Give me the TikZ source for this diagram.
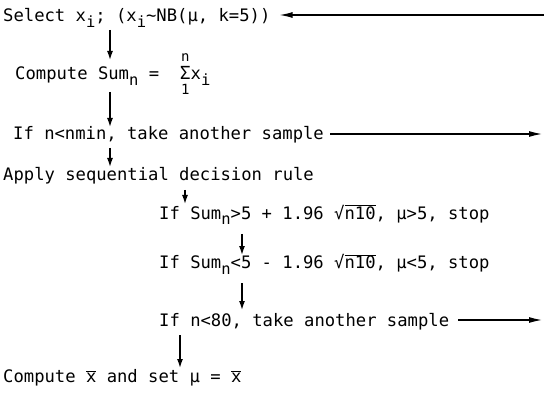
\documentclass[tikz,border=0pt]{standalone}
\usepackage{fontspec}
\usepackage{tikz}
\setmainfont{DejaVu Sans Mono}
\usetikzlibrary{arrows.meta,calc}

\newcommand{\sub}[1]{\raisebox{-5.5pt}{\fontsize{15.5}{15.5}\selectfont #1}}
\newcommand{\ovr}[1]{\(\overline{\hbox{#1}}\)}
\newcommand{\lmt}[1]{\hbox{\fontsize{14}{14}\selectfont #1}}

\begin{document}
\begin{tikzpicture}[x=1pt, y=-1pt,
  txt/.style={anchor=base west, inner sep=0pt, font=\fontsize{17.2}{20}\selectfont},
  flow/.style={-{Latex[length=9pt,width=6pt]}, line width=1.4pt},
  back/.style={-{Latex[length=13pt,width=6pt]}, line width=1.2pt}]
\useasboundingbox (0,0) rectangle (544,393);

% steps of the sampling plan
\node[txt] (select) at (3,22) {Select x\sub{i}; (x\sub{i}\textasciitilde NB(μ, k=5))};
\node[txt] (sumn) at (15,80) {Compute Sum\sub{n} =\ \ \(\mathop{\hbox{\fontsize{18}{18}\selectfont Σ}}\limits^{\lmt{n}\rule[-4pt]{0pt}{4pt}}_{\lmt{1}\rule{0pt}{13pt}}\)x\sub{i}};
\node[txt] (nmin) at (13,140) {If n<nmin, take another sample};
\node[txt] (apply) at (3,181) {Apply sequential decision rule};
\node[txt] (ruleup) at (159,219) {If Sum\sub{n}>5 + 1.96 √\ovr{n10}, μ>5, stop};
\node[txt] (ruledown) at (159,269) {If Sum\sub{n}<5 - 1.96 √\ovr{n10}, μ<5, stop};
\node[txt] (nmax) at (159,326) {If n<80, take another sample};
\node[txt] (mean) at (3,382) {Compute \ovr{x} and set μ = \ovr{x}};

% columns and loose ends
\coordinate (c1) at (110,0);
\coordinate (c2) at (185,0);
\coordinate (c3) at (242,0);
\coordinate (c4) at (180,0);
\coordinate (ret) at (544,15);
\coordinate (out1) at (542,134);
\coordinate (out2) at (542,320);

\draw[flow] ($(select.base -| c1)+(0,8)$) -- ($(sumn.base -| c1)+(0,-20)$);
\draw[flow] ($(sumn.base -| c1)+(0,12)$) -- ($(nmin.base -| c1)+(0,-13)$);
\draw[flow] ($(nmin.base -| c1)+(0,8)$) -- ($(apply.base -| c1)+(0,-14)$);
\draw[flow] ($(apply.base -| c2)+(0,9)$) -- ($(ruleup.base -| c2)+(0,-15)$);
\draw[flow] ($(ruleup.base -| c3)+(0,15)$) -- ($(ruledown.base -| c3)+(0,-14)$);
\draw[flow] ($(ruledown.base -| c3)+(0,14)$) -- ($(nmax.base -| c3)+(0,-16)$);
\draw[flow] ($(nmax.base -| c4)+(0,9)$) -- ($(mean.base -| c4)+(0,-14)$);

% loops back to sampling
\draw[back, shorten >=9pt] (ret) -- (ret -| select.east);
\draw[back, shorten <=6pt] (nmin.east |- out1) -- (out1);
\draw[back, shorten <=9pt] (nmax.east |- out2) -- (out2);
\end{tikzpicture}
\end{document}
